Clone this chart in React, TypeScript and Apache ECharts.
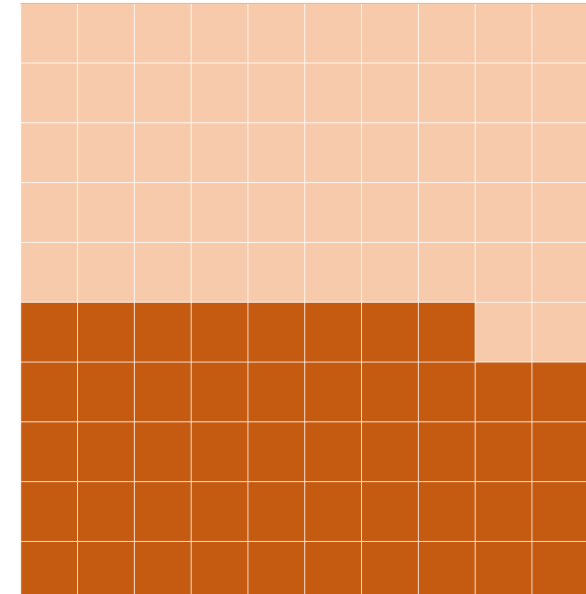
import React, { useEffect, useRef } from "react";
import * as echarts from "echarts";

const columns = ["1", "2", "3", "4", "5", "6", "7", "8", "9", "10"];
const rows = ["1", "2", "3", "4", "5", "6", "7", "8", "9", "10"];
const filledCount = 48;
const filledColor = "#C55A11";
const emptyColor = "#F7CAAC";

export default function App() {
  const ref = useRef<HTMLDivElement>(null);
  useEffect(() => {
    if (!ref.current) return;
    const chart = echarts.init(ref.current, undefined, { renderer: "svg" });
    const cells: any[] = [];
    rows.forEach((_, r) => {
      columns.forEach((_, c) => {
        const idx = r * columns.length + c;
        const filled = idx < filledCount;
        cells.push([c, r, filled ? 1 : 0]);
      });
    });
    chart.setOption({
      animation: false,
      grid: { left: 21, top: 3, width: 568, height: 598 },
      visualMap: {
        type: "piecewise",
        show: false,
        dimension: 2,
        pieces: [
          { value: 0, color: emptyColor },
          { value: 1, color: filledColor },
        ],
      },
      xAxis: {
        type: "category",
        data: columns,
        position: "top",
        z: 5,
        axisLine: { show: true, lineStyle: { color: "#c4c4c4", width: 1 } },
        axisTick: { show: false },
        axisLabel: { show: false },
        splitLine: { show: false },
      },
      yAxis: {
        type: "category",
        data: rows,
        axisLine: { show: false },
        axisTick: { show: false },
        axisLabel: { show: false },
        splitLine: { show: false },
      },
      series: [
        {
          type: "heatmap",
          data: cells,
          itemStyle: { borderColor: "rgba(255,255,255,0.75)", borderWidth: 1 },
          emphasis: { disabled: true },
        },
      ],
    });
    return () => chart.dispose();
  }, []);
  return (
    <div style={{ position: "fixed", left: 0, top: 0, width: 586, height: 594, overflow: "hidden" }}>
      <div ref={ref} style={{ position: "absolute", left: 0, top: 0, width: 600, height: 610 }} />
    </div>
  );
}
